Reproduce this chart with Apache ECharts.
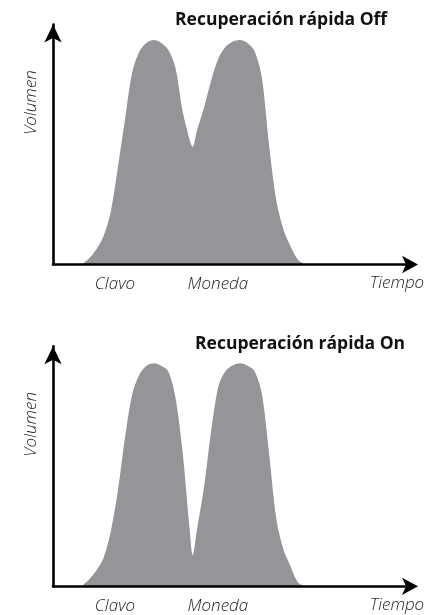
<!DOCTYPE html>
<html>
<head>
<meta charset="utf-8">
<script src="https://cdn.jsdelivr.net/npm/echarts@6/dist/echarts.min.js"></script>
<style>
  html, body { margin: 0; padding: 0; background: #fff; }
  #chart { width: 433px; height: 615px; }
</style>
</head>
<body>
<div id="chart"></div>
<script>
// Panel headings
const panelTitles = ['Recuperación rápida Off', 'Recuperación rápida On'];

// Axis names
const timeAxisName = 'Tiempo';
const volumeAxisName = 'Volumen';

// Labels under the time axis and where they sit on it
const markerLabels = ['Clavo', 'Moneda'];
const markerTimes = [17.2, 45.8];

// Response with fast recovery off (time, volume)
const timeOff = [8, 10, 12, 14, 16, 18, 20, 22, 24, 26, 28, 30, 32, 34, 36, 38, 38.8,
  40, 42, 44, 46, 48, 50, 52, 54, 56, 58, 60, 62, 64, 66, 68, 70];
const volumeOff = [0, 2.5, 6.3, 11.7, 21.7, 40.3, 60.4, 80.0, 88.8, 92.4, 93.5, 92.4, 89.5, 82.1, 64.0, 51.8, 49.0,
  55.8, 65.7, 77.0, 86.1, 90.8, 92.9, 93.5, 92.3, 88.9, 78.0, 50.0, 27.0, 14.7, 7.5, 2.1, 0];

// Response with fast recovery on (time, volume)
const timeOn = [8, 10, 12, 14, 16, 18, 20, 22, 24, 26, 28, 30, 32, 34, 36, 38, 38.8,
  40, 42, 44, 46, 48, 50, 52, 54, 56, 58, 60, 62, 64, 66, 68, 70];
const volumeOn = [0, 2.8, 6.5, 11.7, 22.5, 39.6, 61.9, 80.0, 88.2, 91.9, 92.9, 91.9, 89.6, 78.8, 56.0, 23.1, 13.0,
  23.7, 41.8, 65.5, 83.7, 89.8, 92.1, 92.9, 91.9, 89.6, 80.3, 55.8, 28.5, 15.4, 8.3, 1.7, 0];

const pairs = (t, v) => t.map((x, i) => [x, v[i]]);
const seriesData = [pairs(timeOff, volumeOff), pairs(timeOn, volumeOn)];

const INK = '#000';
const TEXT = '#222';
const FILL = '#939598';
const labelFont = { fontFamily: 'Open Sans', fontStyle: 'italic', fontWeight: 300, fontSize: 17, color: TEXT };

const gridBoxes = [
  { left: 53, width: 360, top: 24.5, height: 240 },
  { left: 53, width: 360, top: 346.3, height: 240 }
];
const titleBoxes = [
  { left: 175, top: 11 },
  { left: 195, top: 335 }
];

const markerName = v => {
  let best = 0;
  markerTimes.forEach((t, i) => { if (Math.abs(t - v) < Math.abs(markerTimes[best] - v)) best = i; });
  return markerLabels[best];
};

const option = {
  animation: false,
  backgroundColor: '#fff',
  title: panelTitles.map((text, i) => ({
    text,
    left: titleBoxes[i].left,
    top: titleBoxes[i].top,
    padding: 0,
    textStyle: { fontFamily: 'Open Sans', fontWeight: 'bold', fontSize: 17.5, color: '#111' }
  })),
  grid: gridBoxes,
  xAxis: gridBoxes.map((g, i) => ({
    gridIndex: i,
    type: 'value',
    min: 0,
    max: 100,
    z: 5,
    axisLine: {
      show: true,
      onZero: false,
      symbol: ['none', 'arrow'],
      symbolSize: [13, 16],
      symbolOffset: [0, 5],
      lineStyle: { color: INK, width: 2.6 }
    },
    axisTick: { show: false },
    splitLine: { show: false },
    axisLabel: {
      show: true,
      customValues: markerTimes,
      formatter: markerName,
      margin: 11,
      ...labelFont
    },
    name: timeAxisName,
    nameLocation: 'end',
    nameGap: -16,
    nameTextStyle: { align: 'center', verticalAlign: 'top', padding: [10, 0, 0, 0], ...labelFont }
  })),
  yAxis: gridBoxes.map((g, i) => ({
    gridIndex: i,
    type: 'value',
    min: 0,
    max: 100,
    z: 5,
    axisLine: {
      show: true,
      onZero: false,
      symbol: ['none', 'arrow'],
      symbolSize: [13, 18],
      symbolOffset: [0, 0],
      lineStyle: { color: INK, width: 2.6 }
    },
    axisTick: { show: false },
    axisLabel: { show: false },
    splitLine: { show: false },
    name: volumeAxisName,
    nameLocation: 'middle',
    nameGap: 13,
    nameTextStyle: { padding: [0, 0, 0, 84], ...labelFont }
  })),
  series: seriesData.map((data, i) => ({
    type: 'line',
    xAxisIndex: i,
    yAxisIndex: i,
    data,
    smooth: 0.3,
    symbol: 'none',
    z: 1,
    lineStyle: { width: 0, color: FILL },
    areaStyle: { color: FILL, opacity: 1 }
  }))
};

const chart = echarts.init(document.getElementById('chart'), null, { renderer: 'canvas' });
chart.setOption(option);
</script>
</body>
</html>
